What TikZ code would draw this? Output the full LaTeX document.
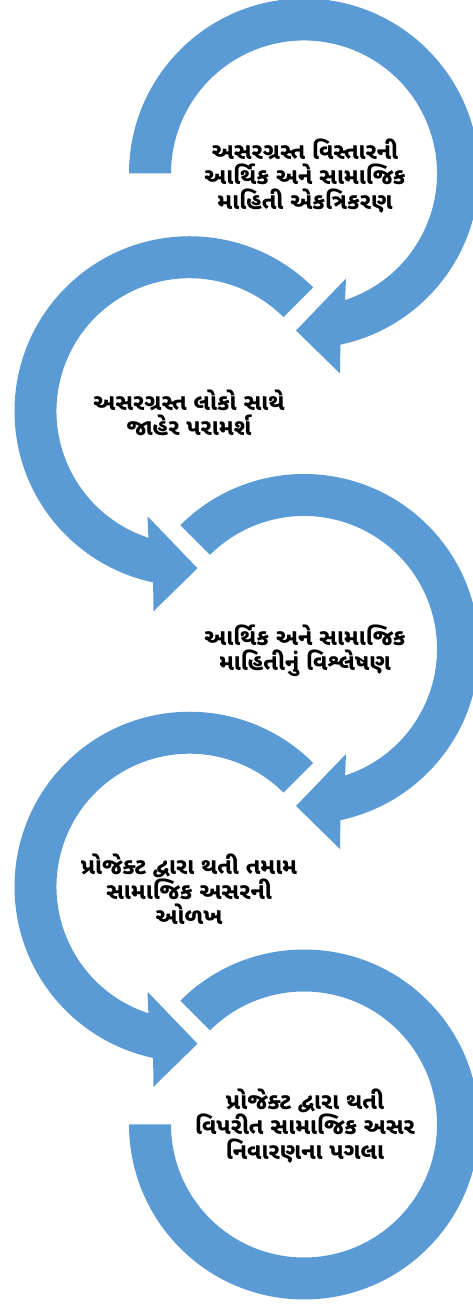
\documentclass[tikz,border=0pt]{standalone}
\usepackage{fontspec}
\newfontfamily\gujfont[Script=Gujarati]{Noto Sans Gujarati UI}
\definecolor{arrowblue}{RGB}{91,155,213}

\begin{document}
\begin{tikzpicture}[x=1pt,y=1pt,
  band/.style={fill=arrowblue,draw=none},
  steptext/.style={align=center,text=black,font=\gujfont\bfseries\fontsize{23}{25}\selectfont}]
\useasboundingbox (0,0) rectangle (473,1304);
\clip (0,0) rectangle (473,1304);
% centres of the five turns
\coordinate (c1) at (304,1130.5);
\coordinate (c2) at (189.5,892.75);
\coordinate (c3) at (304,655);
\coordinate (c4) at (189.5,417.25);
\coordinate (c5) at (304,179.5);

% turns on the right, running clockwise
\foreach \c/\t in {c1/180,c3/135}{
  \begin{scope}[shift={(\c)}]
    \fill[band] (\t:175) arc[start angle=\t,end angle=-78,radius=175]
      -- (36,-200) -- (-8,-157) -- (42,-105)
      -- (-72:133) arc[start angle=-72,end angle=\t,radius=133] -- cycle;
  \end{scope}
}
% turns on the left, running anticlockwise
\foreach \c in {c2,c4}{
  \begin{scope}[shift={(\c)}]
    \fill[band] (45:175) arc[start angle=45,end angle=258,radius=175]
      -- (-36,-200) -- (8,-157) -- (-42,-105)
      -- (252:133) arc[start angle=252,end angle=45,radius=133] -- cycle;
  \end{scope}
}
% last turn, no head
\begin{scope}[shift={(c5)}]
  \fill[band] (135:175) arc[start angle=135,end angle=-180,radius=175]
    -- (180:133) arc[start angle=-180,end angle=135,radius=133] -- cycle;
\end{scope}

\node[steptext] (t1) at (305,1128) {અસરગ્રસ્ત વિસ્તારની\\આર્થિક અને સામાજિક\\માહિતી એકત્રિકરણ};
\node[steptext] (t2) at (189,891) {અસરગ્રસ્ત લોકો સાથે\\જાહેર પરામર્શ};
\node[steptext] (t3) at (305,653) {આર્થિક અને સામાજિક\\માહિતીનું વિશ્લેષણ};
\node[steptext] (t4) at (189,415) {પ્રોજેક્ટ દ્વારા થતી તમામ\\સામાજિક અસરની\\ઓળખ};
\node[steptext] (t5) at (305,178) {પ્રોજેક્ટ દ્વારા થતી\\વિપરીત સામાજિક અસર\\નિવારણના પગલા};
\end{tikzpicture}
\end{document}
